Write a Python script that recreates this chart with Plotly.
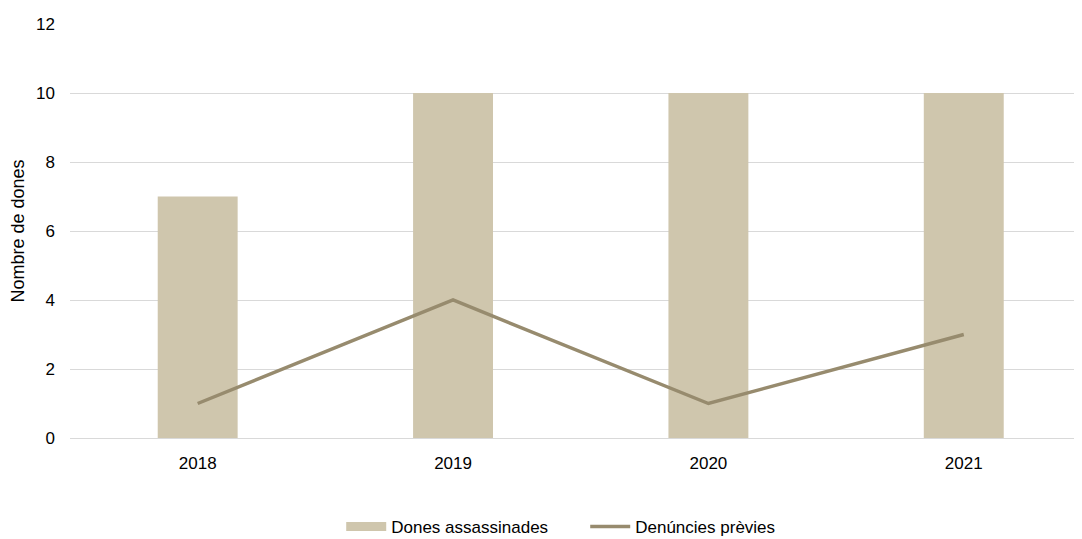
import plotly.graph_objects as go

years = ["2018", "2019", "2020", "2021"]
dones_assassinades = [7, 10, 10, 10]
denuncies_previes = [1, 4, 1, 3]

bar_color = "#CFC6AD"
line_color = "#978B6E"
font_family = "Liberation Sans, Arial, sans-serif"

fig = go.Figure()
fig.add_trace(go.Bar(x=years, y=dones_assassinades, name="Dones assassinades",
                     showlegend=False,
                     marker=dict(color=bar_color, line=dict(width=0))))
# legend entry styled like the reference's wide swatch
fig.add_trace(go.Scatter(x=[None], y=[None], name="Dones assassinades",
                         mode="lines", line=dict(color=bar_color, width=9),
                         hoverinfo="skip"))
fig.add_trace(go.Scatter(x=years, y=denuncies_previes, name="Denúncies prèvies",
                         mode="lines", line=dict(color=line_color, width=3.5)))

fig.update_layout(
    width=1074, height=531,
    margin=dict(l=62, r=0, t=16, b=101, autoexpand=False),
    paper_bgcolor="white", plot_bgcolor="white",
    font=dict(family=font_family, size=17, color="#000000"),
    bargap=0.687,
    showlegend=True,
    legend=dict(orientation="h", x=0.268, xanchor="left", y=-0.215, yanchor="middle",
                font=dict(size=17), itemwidth=40, entrywidth=189, traceorder="normal",
                bgcolor="rgba(0,0,0,0)"),
)
fig.update_xaxes(type="category", range=[-0.5, 3.463], showgrid=False,
                 showline=False, ticks="", ticklabelstandoff=13, tickfont=dict(size=17))
fig.update_yaxes(range=[0, 12], dtick=2, showgrid=True, gridcolor="#D9D9D9",
                 gridwidth=1, zeroline=True, zerolinecolor="#D9D9D9", zerolinewidth=1,
                 ticks="", ticklabelstandoff=14, tickfont=dict(size=17),
                 title=dict(text="Nombre de dones", font=dict(size=18), standoff=8))

fig.write_html("out.html")
